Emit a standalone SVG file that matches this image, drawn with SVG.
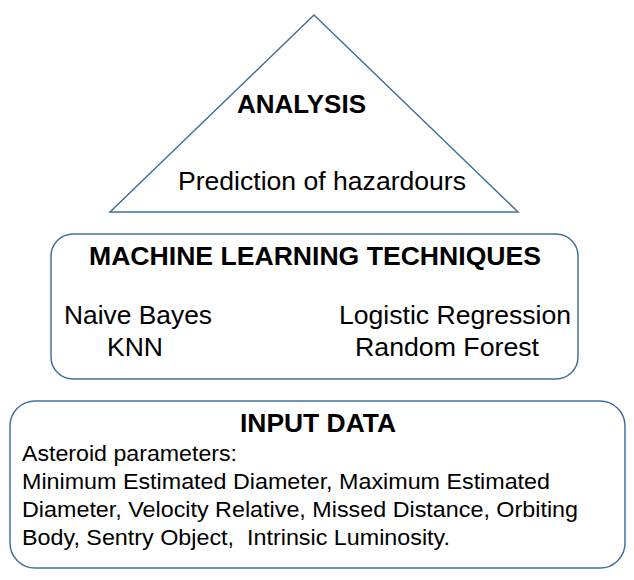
<svg xmlns="http://www.w3.org/2000/svg" width="634" height="580" viewBox="0 0 634 580">
<style>
.shape{fill:#fff;stroke:#41719c;stroke-width:1.5}
text{font-family:"Liberation Sans",Arial,sans-serif;fill:#000;white-space:pre}
.b{font-weight:bold;font-size:25px}
.t{font-size:26px}
.s{font-size:22px}
</style>
<rect width="634" height="580" fill="#fff"/>
<g id="analysis">
<polygon class="shape" points="314,15 110,212 518,212"/>
<text class="b" x="237" y="113" textLength="129" lengthAdjust="spacingAndGlyphs">ANALYSIS</text>
<text class="t" x="178" y="190" textLength="288" lengthAdjust="spacingAndGlyphs">Prediction of hazardours</text>
</g>
<g id="ml">
<rect class="shape" x="51" y="234" width="527" height="145" rx="22"/>
<text class="b" x="89" y="265" textLength="452" lengthAdjust="spacingAndGlyphs">MACHINE LEARNING TECHNIQUES</text>
<text class="t" x="64" y="324" textLength="148" lengthAdjust="spacingAndGlyphs">Naive Bayes</text>
<text class="t" x="107" y="356" textLength="56" lengthAdjust="spacingAndGlyphs">KNN</text>
<text class="t" x="339" y="324" textLength="232" lengthAdjust="spacingAndGlyphs">Logistic Regression</text>
<text class="t" x="355" y="356" textLength="184" lengthAdjust="spacingAndGlyphs">Random Forest</text>
</g>
<g id="input">
<rect class="shape" x="10" y="401" width="615" height="167" rx="25"/>
<text class="b" x="240" y="432" textLength="156" lengthAdjust="spacingAndGlyphs">INPUT DATA</text>
<text class="s" x="22" y="461" textLength="215" lengthAdjust="spacingAndGlyphs">Asteroid parameters:</text>
<text class="s" x="22" y="489" textLength="528" lengthAdjust="spacingAndGlyphs">Minimum Estimated Diameter, Maximum Estimated</text>
<text class="s" x="22" y="517" textLength="556" lengthAdjust="spacingAndGlyphs">Diameter, Velocity Relative, Missed Distance, Orbiting</text>
<text class="s" x="22" y="545" textLength="428" lengthAdjust="spacingAndGlyphs">Body, Sentry Object,  Intrinsic Luminosity.</text>
</g>
<g id="connectors"/>
</svg>
